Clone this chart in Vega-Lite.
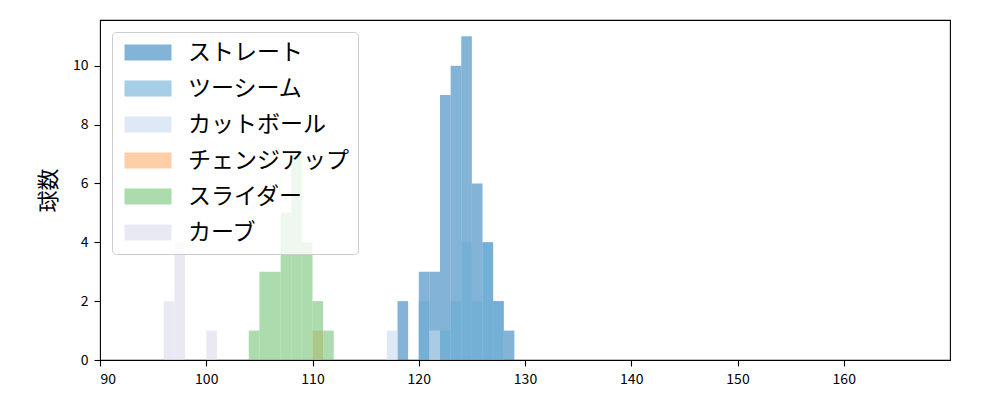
{
  "$schema": "https://vega.github.io/schema/vega-lite/v6.json",
  "width": 850,
  "height": 340,
  "autosize": {"type": "none"},
  "padding": {"left": 100, "top": 20, "right": 50, "bottom": 40},
  "config": {
    "font": "Noto Sans CJK JP",
    "view": {"stroke": "#000000", "strokeWidth": 1.1},
    "axis": {"grid": false, "domain": false, "tickColor": "#000000", "tickSize": 6, "tickWidth": 1.1, "labelColor": "#000000", "labelFontSize": 14, "labelPadding": 6, "labelFont": "Noto Sans CJK JP"}
  },
  "data": {
    "values": [
      {"type": "ストレート", "start": 118, "end": 119, "count": 2},
      {"type": "ストレート", "start": 120, "end": 121, "count": 3},
      {"type": "ストレート", "start": 121, "end": 122, "count": 3},
      {"type": "ストレート", "start": 122, "end": 123, "count": 9},
      {"type": "ストレート", "start": 123, "end": 124, "count": 10},
      {"type": "ストレート", "start": 124, "end": 125, "count": 11},
      {"type": "ストレート", "start": 125, "end": 126, "count": 6},
      {"type": "ストレート", "start": 126, "end": 127, "count": 4},
      {"type": "ストレート", "start": 127, "end": 128, "count": 2},
      {"type": "ストレート", "start": 128, "end": 129, "count": 1},
      {"type": "ツーシーム", "start": 120, "end": 121, "count": 2},
      {"type": "ツーシーム", "start": 122, "end": 123, "count": 1},
      {"type": "ツーシーム", "start": 123, "end": 124, "count": 2},
      {"type": "ツーシーム", "start": 124, "end": 125, "count": 4},
      {"type": "ツーシーム", "start": 125, "end": 126, "count": 2},
      {"type": "ツーシーム", "start": 126, "end": 127, "count": 4},
      {"type": "ツーシーム", "start": 127, "end": 128, "count": 2},
      {"type": "カットボール", "start": 117, "end": 118, "count": 1},
      {"type": "カットボール", "start": 121, "end": 122, "count": 1},
      {"type": "チェンジアップ", "start": 110, "end": 111, "count": 1},
      {"type": "スライダー", "start": 104, "end": 105, "count": 1},
      {"type": "スライダー", "start": 105, "end": 106, "count": 3},
      {"type": "スライダー", "start": 106, "end": 107, "count": 3},
      {"type": "スライダー", "start": 107, "end": 108, "count": 5},
      {"type": "スライダー", "start": 108, "end": 109, "count": 7},
      {"type": "スライダー", "start": 109, "end": 110, "count": 4},
      {"type": "スライダー", "start": 110, "end": 111, "count": 2},
      {"type": "スライダー", "start": 111, "end": 112, "count": 1},
      {"type": "カーブ", "start": 96, "end": 97, "count": 2},
      {"type": "カーブ", "start": 97, "end": 98, "count": 4},
      {"type": "カーブ", "start": 100, "end": 101, "count": 1}
    ]
  },
  "mark": {"type": "bar", "opacity": 0.6, "strokeWidth": 0, "orient": "vertical"},
  "encoding": {
    "x": {
      "field": "start", "type": "quantitative",
      "scale": {"domain": [90, 170], "nice": false, "zero": false, "padding": 0},
      "axis": {"values": [90, 100, 110, 120, 130, 140, 150, 160], "title": null}
    },
    "x2": {"field": "end"},
    "y": {
      "field": "count", "type": "quantitative", "stack": null,
      "scale": {"domain": [0, 11.55], "nice": false, "padding": 0},
      "axis": {"values": [0, 2, 4, 6, 8, 10], "title": "球数", "titleFontSize": 22, "titleFontWeight": "normal", "titleColor": "#000000", "titlePadding": 12}
    },
    "y2": {"datum": 0},
    "color": {
      "field": "type", "type": "nominal",
      "scale": {
        "domain": ["ストレート", "ツーシーム", "カットボール", "チェンジアップ", "スライダー", "カーブ"],
        "range": ["#3182bd", "#6baed6", "#c6dbef", "#fdae6b", "#74c476", "#dadaeb"]
      },
      "legend": {
        "title": null,
        "orient": "top-left",
        "offset": 12,
        "padding": 9,
        "strokeColor": "#cccccc",
        "cornerRadius": 4,
        "fillColor": "rgba(255,255,255,0.8)",
        "symbolType": "M-1,-1H4.875V1H-1Z",
        "symbolSize": 256,
        "symbolOpacity": 0.6,
        "symbolStrokeWidth": 0,
        "labelFontSize": 23,
        "labelColor": "#000000",
        "labelOffset": 44,
        "labelLimit": 400,
        "rowPadding": 12,
        "labelFont": "Noto Sans CJK JP"
      }
    }
  }
}
